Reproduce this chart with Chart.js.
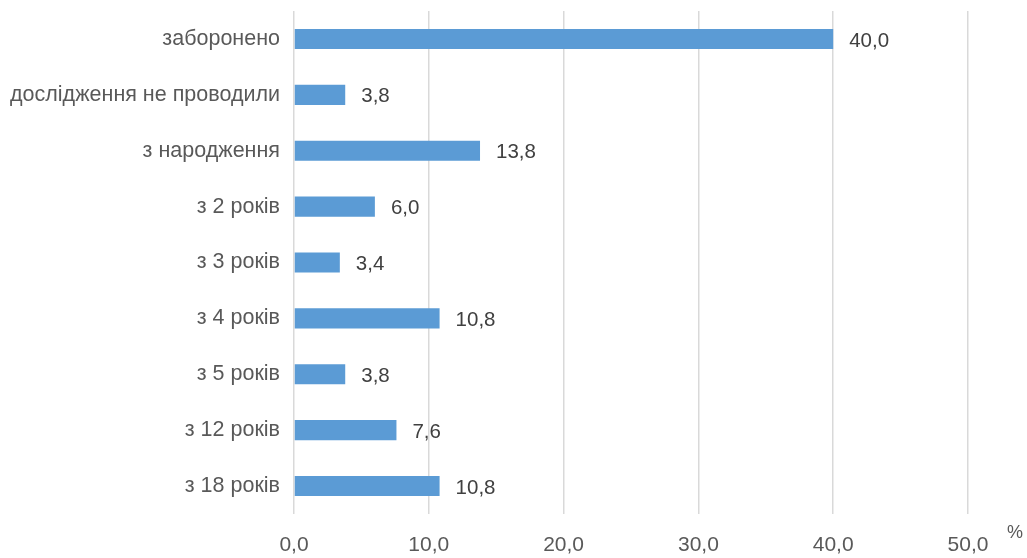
<!DOCTYPE html>
<html>
<head>
<meta charset="utf-8">
<script src="https://cdn.jsdelivr.net/npm/chart.js@4"></script>
<style>
html,body{margin:0;padding:0;background:#fff;}
#wrap{width:1027px;height:558px;position:relative;}
</style>
</head>
<body>
<div id="wrap"><canvas id="c"></canvas></div>
<script>
const categories = ["заборонено","дослідження не проводили","з народження","з 2 років","з 3 років","з 4 років","з 5 років","з 12 років","з 18 років"];
const values = [40.0, 3.8, 13.8, 6.0, 3.4, 10.8, 3.8, 7.6, 10.8];
const xTicks = [0, 10, 20, 30, 40, 50];
const unitLabel = "%";

const FONT = "'Liberation Sans', Arial, sans-serif";
const fmt = v => v.toFixed(1).replace('.', ',');

const labelPlugin = {
  id: 'labels',
  afterDatasetsDraw(chart) {
    const ctx = chart.ctx;
    const meta = chart.getDatasetMeta(0);
    ctx.save();
    ctx.font = "20.5px " + FONT;
    ctx.fillStyle = "#404040";
    ctx.textBaseline = "middle";
    ctx.textAlign = "left";
    meta.data.forEach((bar, i) => {
      ctx.fillText(fmt(values[i]), bar.x + 16, bar.y + 2);
    });
    const xs = chart.scales.x;
    ctx.font = "18px " + FONT;
    ctx.fillStyle = "#595959";
    ctx.fillText(unitLabel, xs.getPixelForValue(50) + 39, chart.chartArea.bottom + 19);
    ctx.restore();
  }
};

new Chart(document.getElementById('c'), {
  type: 'bar',
  data: {
    labels: categories,
    datasets: [{
      data: values,
      backgroundColor: '#5B9BD5',
      borderWidth: 0,
      barPercentage: 0.36,
      categoryPercentage: 1.0
    }]
  },
  options: {
    indexAxis: 'y',
    responsive: true,
    maintainAspectRatio: false,
    animation: false,
    layout: { autoPadding: false, padding: { top: 11, right: 59, bottom: 0, left: 0 } },
    plugins: { legend: { display: false }, tooltip: { enabled: false } },
    scales: {
      x: {
        min: 0, max: 50,
        afterBuildTicks(scale) { scale.ticks = xTicks.map(v => ({ value: v })); },
        afterFit(scale) { scale.height = 44; scale.paddingLeft = 0; scale.paddingRight = 0; },
        grid: { color: '#D9D9D9', lineWidth: 1.5, drawTicks: false },
        border: { display: false },
        ticks: {
          padding: 19,
          font: { family: FONT, size: 21 },
          color: '#595959',
          callback: v => fmt(v)
        }
      },
      y: {
        afterFit(scale) { scale.width = 294; scale.paddingTop = 0; scale.paddingBottom = 0; },
        grid: { display: false, drawTicks: false },
        border: { display: false },
        ticks: {
          padding: 14,
          font: { family: FONT, size: 21.5 },
          color: '#595959'
        }
      }
    }
  },
  plugins: [labelPlugin]
});
</script>
</body>
</html>
